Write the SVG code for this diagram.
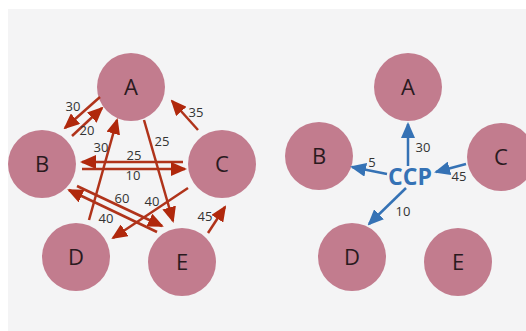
<svg xmlns="http://www.w3.org/2000/svg" width="526" height="331" viewBox="0 0 526 331">
<style>
.node circle{fill:#c27c8e}
.node text{font-family:"Open Sans","Noto Sans",sans-serif;font-size:22px;fill:#2a1a1e;text-anchor:middle}
.r{stroke:#b0331a;stroke-width:2.5;fill:none;marker-end:url(#ar)}
.b{stroke:#3572b5;stroke-width:2.5;fill:none;marker-end:url(#ab)}
.lbl{font-family:"Open Sans","Noto Sans",sans-serif;font-size:13px;fill:#333;text-anchor:middle}
.ccp{font-family:"Open Sans","Noto Sans",sans-serif;font-size:23px;font-weight:bold;fill:#3572b5;text-anchor:middle}
</style>
<defs>
<marker id="ar" viewBox="0 0 16 14" refX="14" refY="7" markerWidth="16" markerHeight="14" markerUnits="userSpaceOnUse" orient="auto">
<path d="M0,0 L16,7 L0,14 z" fill="#b0280c"/>
</marker>
<marker id="ab" viewBox="0 0 16 14" refX="14" refY="7" markerWidth="16" markerHeight="14" markerUnits="userSpaceOnUse" orient="auto">
<path d="M0,0 L16,7 L0,14 z" fill="#3572b5"/>
</marker>
</defs>
<rect x="0" y="0" width="526" height="331" fill="#ffffff"/>
<rect x="8" y="9" width="518" height="322" fill="#f4f4f5"/>

<g id="L-A" class="node"><circle cx="131" cy="87" r="34"/><text x="131" y="95">A</text></g>
<g id="L-B" class="node"><circle cx="42" cy="164" r="34"/><text x="42" y="172">B</text></g>
<g id="L-C" class="node"><circle cx="222" cy="164" r="34"/><text x="222" y="172">C</text></g>
<g id="L-D" class="node"><circle cx="76" cy="257" r="34"/><text x="76" y="265">D</text></g>
<g id="L-E" class="node"><circle cx="182" cy="262" r="34"/><text x="182" y="270">E</text></g>

<g id="R-A" class="node"><circle cx="408" cy="87" r="34"/><text x="408" y="95">A</text></g>
<g id="R-B" class="node"><circle cx="319" cy="156" r="34"/><text x="319" y="164">B</text></g>
<g id="R-C" class="node"><circle cx="501" cy="157" r="34"/><text x="501" y="165">C</text></g>
<g id="R-D" class="node"><circle cx="352" cy="257" r="34"/><text x="352" y="265">D</text></g>
<g id="R-E" class="node"><circle cx="458" cy="262" r="34"/><text x="458" y="270">E</text></g>

<g id="CCP"><text class="ccp" x="410" y="185">CCP</text></g>

<g id="connectors">
<line class="r" x1="100" y1="97" x2="65" y2="128"/>
<line class="r" x1="72" y1="136" x2="102" y2="108"/>
<line class="r" x1="89" y1="220" x2="117" y2="120"/>
<line class="r" x1="144" y1="120" x2="173" y2="221"/>
<line class="r" x1="183" y1="162" x2="82" y2="162"/>
<line class="r" x1="82" y1="169" x2="185" y2="169"/>
<line class="r" x1="157" y1="232" x2="69" y2="190"/>
<line class="r" x1="77" y1="186" x2="162" y2="226"/>
<line class="r" x1="188" y1="188" x2="113" y2="238"/>
<line class="r" x1="198" y1="130" x2="172" y2="101"/>
<line class="r" x1="208" y1="233" x2="225" y2="207"/>

<line class="b" x1="408" y1="166" x2="408" y2="124"/>
<line class="b" x1="387" y1="174" x2="352" y2="167"/>
<line class="b" x1="466" y1="164" x2="436" y2="172"/>
<line class="b" x1="406" y1="188" x2="369" y2="224"/>
</g>

<g id="labels">
<text class="lbl" x="73" y="111">30</text>
<text class="lbl" x="87" y="135">20</text>
<text class="lbl" x="101" y="152">30</text>
<text class="lbl" x="162" y="146">25</text>
<text class="lbl" x="134" y="160">25</text>
<text class="lbl" x="133" y="180">10</text>
<text class="lbl" x="122" y="203">60</text>
<text class="lbl" x="152" y="206">40</text>
<text class="lbl" x="106" y="223">40</text>
<text class="lbl" x="196" y="117">35</text>
<text class="lbl" x="205" y="221">45</text>
<text class="lbl" x="423" y="152">30</text>
<text class="lbl" x="372" y="167">5</text>
<text class="lbl" x="459" y="181">45</text>
<text class="lbl" x="403" y="216">10</text>
</g>
</svg>
